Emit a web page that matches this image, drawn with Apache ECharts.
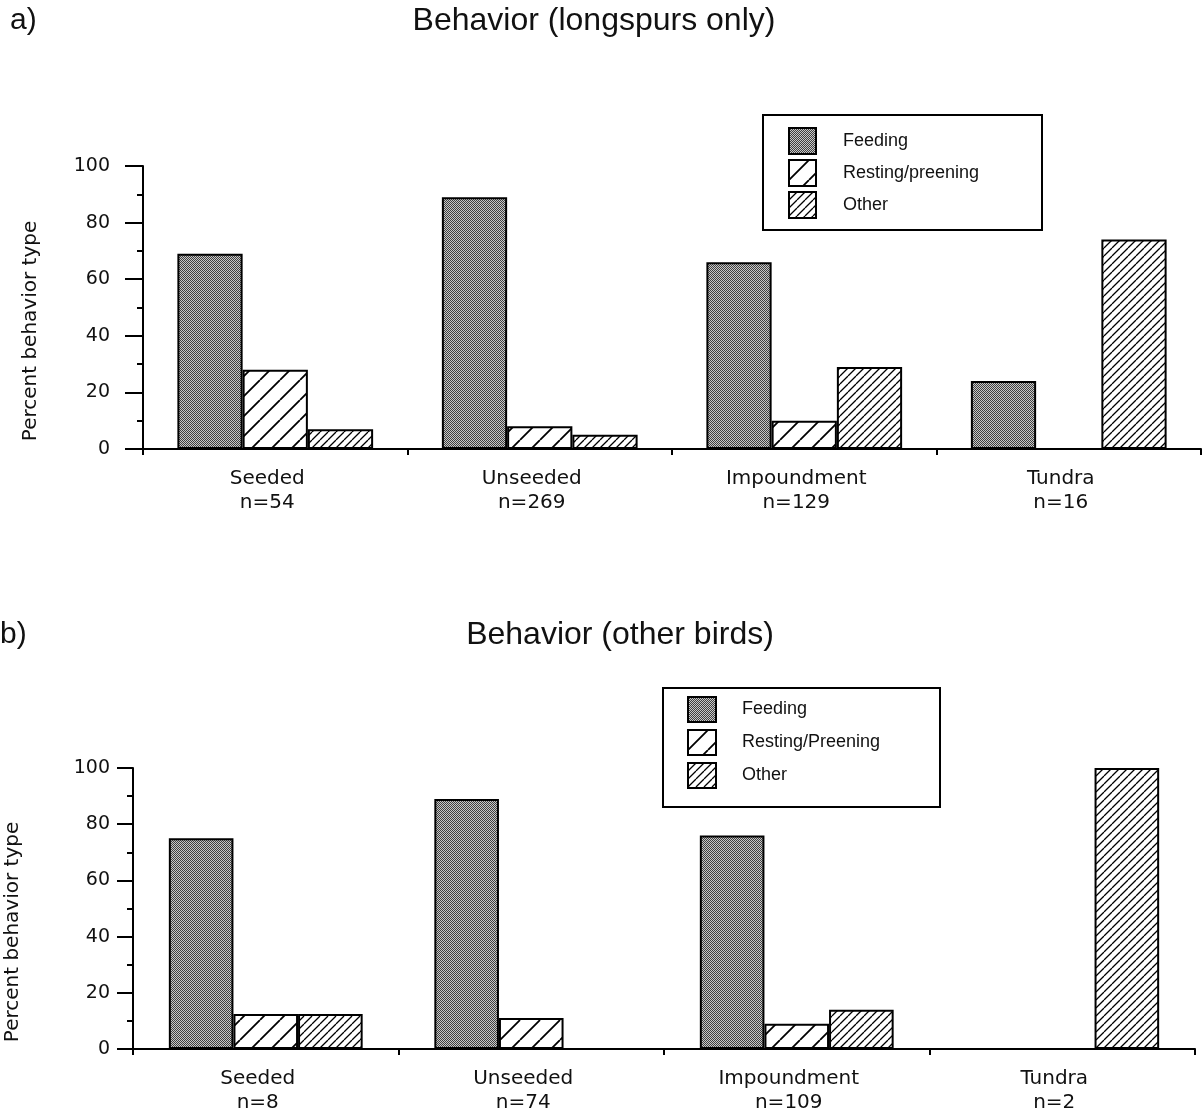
<!DOCTYPE html>
<html>
<head>
<meta charset="utf-8">
<script src="https://cdn.jsdelivr.net/npm/echarts@6/dist/echarts.min.js"></script>
<style>
html,body{margin:0;padding:0;background:#fff;}
#chart{width:1203px;height:1114px;}
</style>
</head>
<body>
<div id="chart"></div>
<script>
// ---- Data ----
const categories = ['Seeded', 'Unseeded', 'Impoundment', 'Tundra'];
const sampleSizesA = ['n=54', 'n=269', 'n=129', 'n=16'];
const sampleSizesB = ['n=8', 'n=74', 'n=109', 'n=2'];
const feedingA = [69, 89, 66, 24];
const restingA = [28, 8, 10, 0];
const otherA = [7, 5, 29, 74];
const feedingB = [75, 89, 76, 0];
const restingB = [12.5, 11, 9, 0];
const otherB = [12.5, 0, 14, 100];
const legendA = ['Feeding', 'Resting/preening', 'Other'];
const legendB = ['Feeding', 'Resting/Preening', 'Other'];
const titleA = 'Behavior (longspurs only)';
const titleB = 'Behavior (other birds)';
const yName = 'Percent behavior type';

// ---- Fill patterns ----
function makeCanvas(w, h, draw) {
  const c = document.createElement('canvas');
  c.width = w; c.height = h;
  draw(c.getContext('2d'), w, h);
  return c;
}
const stipple = makeCanvas(2, 2, (ctx) => {
  ctx.fillStyle = '#c8c8c8'; ctx.fillRect(0, 0, 2, 2);
  ctx.fillStyle = '#404040'; ctx.fillRect(0, 0, 1, 1); ctx.fillRect(1, 1, 1, 1);
});
function hatch(s, lw) {
  return makeCanvas(s, s, (ctx) => {
    ctx.fillStyle = '#fff'; ctx.fillRect(0, 0, s, s);
    ctx.strokeStyle = '#000'; ctx.lineWidth = lw;
    ctx.beginPath();
    for (let k = -1; k <= 1; k++) {
      ctx.moveTo(k * s, s); ctx.lineTo(k * s + s, 0);
    }
    ctx.stroke();
  });
}
const feedFill = { image: stipple, repeat: 'repeat' };
const restFill = { image: hatch(20, 1.8), repeat: 'repeat' };
const otherFill = { image: hatch(8, 1.3), repeat: 'repeat' };

function barStyle(fill) {
  return { color: fill, borderColor: '#000', borderWidth: 2 };
}

const axisFont = 'DejaVu Sans';
function xAxisCfg(gridIndex, ns) {
  return {
    type: 'category', gridIndex: gridIndex, data: categories,
    axisLine: { lineStyle: { color: '#000', width: 2 } },
    axisTick: { show: true, length: 6, lineStyle: { color: '#000', width: 2 } },
    axisLabel: {
      color: '#111', fontFamily: axisFont, fontSize: 20, lineHeight: 24, margin: 18,
      padding: [0, 16, 0, 0],
      formatter: (v, i) => v + '\n' + ns[i]
    },
    splitLine: { show: false }
  };
}
function yAxisCfg(gridIndex, tickLen, margin) {
  return {
    type: 'value', gridIndex: gridIndex, min: 0, max: 100, interval: 20,
    axisLine: { show: true, lineStyle: { color: '#000', width: 2 } },
    axisTick: { show: true, length: tickLen, lineStyle: { color: '#000', width: 2 } },
    minorTick: { show: true, splitNumber: 2, length: 6, lineStyle: { color: '#000', width: 2 } },
    axisLabel: { color: '#111', fontFamily: axisFont, fontSize: 19, margin: margin },
    splitLine: { show: false }
  };
}

const chart = echarts.init(document.getElementById('chart'), null, { renderer: 'canvas' });
const option = {
  backgroundColor: '#fff',
  animation: false,
  grid: [
    { left: 143, right: 2, top: 166, bottom: 665, outerBoundsMode: 'none' },
    { left: 133, right: 8, top: 768, bottom: 65, outerBoundsMode: 'none' }
  ],
  xAxis: [xAxisCfg(0, sampleSizesA), xAxisCfg(1, sampleSizesB)],
  yAxis: [yAxisCfg(0, 18, 33), yAxisCfg(1, 16, 23)],
  legend: [
    {
      data: legendA, orient: 'vertical', left: 783, top: 122, icon: 'rect',
      itemWidth: 27, itemHeight: 26, itemGap: 4,
      textStyle: { fontFamily: 'Liberation Sans', fontSize: 18, color: '#111', padding: [0, 0, 0, 22] },
      selectedMode: false
    },
    {
      data: legendB, orient: 'vertical', left: 682, top: 691, icon: 'rect',
      itemWidth: 28, itemHeight: 25, itemGap: 6,
      textStyle: { fontFamily: 'Liberation Sans', fontSize: 18, color: '#111', padding: [0, 0, 0, 21] },
      selectedMode: false
    }
  ],
  series: [
    { name: legendA[0], type: 'bar', xAxisIndex: 0, yAxisIndex: 0, data: feedingA, itemStyle: barStyle(feedFill), barGap: '0%', barCategoryGap: '26%' },
    { name: legendA[1], type: 'bar', xAxisIndex: 0, yAxisIndex: 0, data: restingA, itemStyle: barStyle(restFill), barGap: '0%', barCategoryGap: '26%' },
    { name: legendA[2], type: 'bar', xAxisIndex: 0, yAxisIndex: 0, data: otherA, itemStyle: barStyle(otherFill), barGap: '0%', barCategoryGap: '26%' },
    { name: legendB[0], type: 'bar', xAxisIndex: 1, yAxisIndex: 1, data: feedingB, itemStyle: barStyle(feedFill), barGap: '0%', barCategoryGap: '27%' },
    { name: legendB[1], type: 'bar', xAxisIndex: 1, yAxisIndex: 1, data: restingB, itemStyle: barStyle(restFill), barGap: '0%', barCategoryGap: '27%' },
    { name: legendB[2], type: 'bar', xAxisIndex: 1, yAxisIndex: 1, data: otherB, itemStyle: barStyle(otherFill), barGap: '0%', barCategoryGap: '27%' }
  ],
  graphic: [
    { type: 'text', x: 594, y: 21, style: { text: titleA, fill: '#111', font: '32px "Liberation Sans"', textAlign: 'center', textVerticalAlign: 'middle' } },
    { type: 'text', x: 10, y: 21, style: { text: 'a)', fill: '#111', font: '30px "Liberation Sans"', textAlign: 'left', textVerticalAlign: 'middle' } },
    { type: 'text', x: 620, y: 635, style: { text: titleB, fill: '#111', font: '32px "Liberation Sans"', textAlign: 'center', textVerticalAlign: 'middle' } },
    { type: 'text', x: 0, y: 635, style: { text: 'b)', fill: '#111', font: '30px "Liberation Sans"', textAlign: 'left', textVerticalAlign: 'middle' } },
    { type: 'text', x: 31, y: 331, rotation: Math.PI / 2, style: { text: yName, fill: '#111', font: '20px "DejaVu Sans"', textAlign: 'center', textVerticalAlign: 'middle' } },
    { type: 'text', x: 13, y: 932, rotation: Math.PI / 2, style: { text: yName, fill: '#111', font: '20px "DejaVu Sans"', textAlign: 'center', textVerticalAlign: 'middle' } },
    { type: 'rect', shape: { x: 763, y: 115, width: 279, height: 115 }, style: { fill: 'none', stroke: '#000', lineWidth: 2 } },
    { type: 'rect', shape: { x: 663, y: 688, width: 277, height: 119 }, style: { fill: 'none', stroke: '#000', lineWidth: 2 } }
  ]
};
chart.setOption(option);
</script>
</body>
</html>
